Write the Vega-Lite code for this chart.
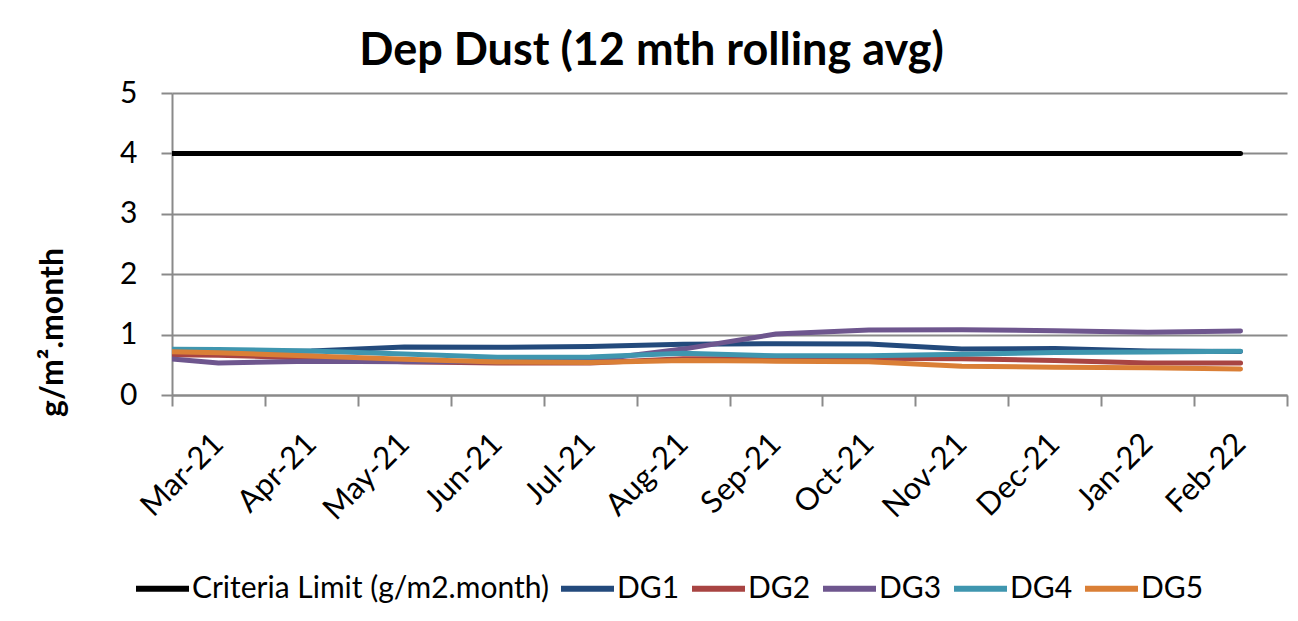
{
  "$schema": "https://vega.github.io/schema/vega-lite/v6.json",
  "width": 1115,
  "height": 302,
  "autosize": {"type": "none"},
  "padding": {"left": 172, "top": 93, "right": 11, "bottom": 226},
  "background": "#ffffff",
  "title": {
    "text": "Dep Dust (12 mth rolling avg)",
    "font": "Lato",
    "fontSize": 45,
    "fontWeight": "bold",
    "color": "#000000",
    "anchor": "middle",
    "frame": "group",
    "dx": -78,
    "baseline": "alphabetic",
    "offset": -32
  },
  "data": {
    "values": [
      {"series": "Criteria Limit (g/m2.month)", "month": "Feb-21", "n": -1, "value": 4},
      {"series": "Criteria Limit (g/m2.month)", "month": "Mar-21", "n": 0, "value": 4},
      {"series": "Criteria Limit (g/m2.month)", "month": "Apr-21", "n": 1, "value": 4},
      {"series": "Criteria Limit (g/m2.month)", "month": "May-21", "n": 2, "value": 4},
      {"series": "Criteria Limit (g/m2.month)", "month": "Jun-21", "n": 3, "value": 4},
      {"series": "Criteria Limit (g/m2.month)", "month": "Jul-21", "n": 4, "value": 4},
      {"series": "Criteria Limit (g/m2.month)", "month": "Aug-21", "n": 5, "value": 4},
      {"series": "Criteria Limit (g/m2.month)", "month": "Sep-21", "n": 6, "value": 4},
      {"series": "Criteria Limit (g/m2.month)", "month": "Oct-21", "n": 7, "value": 4},
      {"series": "Criteria Limit (g/m2.month)", "month": "Nov-21", "n": 8, "value": 4},
      {"series": "Criteria Limit (g/m2.month)", "month": "Dec-21", "n": 9, "value": 4},
      {"series": "Criteria Limit (g/m2.month)", "month": "Jan-22", "n": 10, "value": 4},
      {"series": "Criteria Limit (g/m2.month)", "month": "Feb-22", "n": 11, "value": 4},
      {"series": "DG1", "month": "Feb-21", "n": -1, "value": 0.72},
      {"series": "DG1", "month": "Mar-21", "n": 0, "value": 0.72},
      {"series": "DG1", "month": "Apr-21", "n": 1, "value": 0.73},
      {"series": "DG1", "month": "May-21", "n": 2, "value": 0.795},
      {"series": "DG1", "month": "Jun-21", "n": 3, "value": 0.79},
      {"series": "DG1", "month": "Jul-21", "n": 4, "value": 0.805},
      {"series": "DG1", "month": "Aug-21", "n": 5, "value": 0.84},
      {"series": "DG1", "month": "Sep-21", "n": 6, "value": 0.85},
      {"series": "DG1", "month": "Oct-21", "n": 7, "value": 0.845},
      {"series": "DG1", "month": "Nov-21", "n": 8, "value": 0.76},
      {"series": "DG1", "month": "Dec-21", "n": 9, "value": 0.77},
      {"series": "DG1", "month": "Jan-22", "n": 10, "value": 0.73},
      {"series": "DG1", "month": "Feb-22", "n": 11, "value": 0.72},
      {"series": "DG2", "month": "Feb-21", "n": -1, "value": 0.67},
      {"series": "DG2", "month": "Mar-21", "n": 0, "value": 0.66},
      {"series": "DG2", "month": "Apr-21", "n": 1, "value": 0.61},
      {"series": "DG2", "month": "May-21", "n": 2, "value": 0.55},
      {"series": "DG2", "month": "Jun-21", "n": 3, "value": 0.53},
      {"series": "DG2", "month": "Jul-21", "n": 4, "value": 0.53},
      {"series": "DG2", "month": "Aug-21", "n": 5, "value": 0.6},
      {"series": "DG2", "month": "Sep-21", "n": 6, "value": 0.6},
      {"series": "DG2", "month": "Oct-21", "n": 7, "value": 0.61},
      {"series": "DG2", "month": "Nov-21", "n": 8, "value": 0.6},
      {"series": "DG2", "month": "Dec-21", "n": 9, "value": 0.57},
      {"series": "DG2", "month": "Jan-22", "n": 10, "value": 0.53},
      {"series": "DG2", "month": "Feb-22", "n": 11, "value": 0.53},
      {"series": "DG3", "month": "Feb-21", "n": -1, "value": 0.66},
      {"series": "DG3", "month": "Mar-21", "n": 0, "value": 0.53},
      {"series": "DG3", "month": "Apr-21", "n": 1, "value": 0.56},
      {"series": "DG3", "month": "May-21", "n": 2, "value": 0.55},
      {"series": "DG3", "month": "Jun-21", "n": 3, "value": 0.55},
      {"series": "DG3", "month": "Jul-21", "n": 4, "value": 0.57},
      {"series": "DG3", "month": "Aug-21", "n": 5, "value": 0.76},
      {"series": "DG3", "month": "Sep-21", "n": 6, "value": 1.01},
      {"series": "DG3", "month": "Oct-21", "n": 7, "value": 1.075},
      {"series": "DG3", "month": "Nov-21", "n": 8, "value": 1.08},
      {"series": "DG3", "month": "Dec-21", "n": 9, "value": 1.065},
      {"series": "DG3", "month": "Jan-22", "n": 10, "value": 1.04},
      {"series": "DG3", "month": "Feb-22", "n": 11, "value": 1.06},
      {"series": "DG4", "month": "Feb-21", "n": -1, "value": 0.76},
      {"series": "DG4", "month": "Mar-21", "n": 0, "value": 0.755},
      {"series": "DG4", "month": "Apr-21", "n": 1, "value": 0.73},
      {"series": "DG4", "month": "May-21", "n": 2, "value": 0.68},
      {"series": "DG4", "month": "Jun-21", "n": 3, "value": 0.625},
      {"series": "DG4", "month": "Jul-21", "n": 4, "value": 0.63},
      {"series": "DG4", "month": "Aug-21", "n": 5, "value": 0.69},
      {"series": "DG4", "month": "Sep-21", "n": 6, "value": 0.65},
      {"series": "DG4", "month": "Oct-21", "n": 7, "value": 0.65},
      {"series": "DG4", "month": "Nov-21", "n": 8, "value": 0.675},
      {"series": "DG4", "month": "Dec-21", "n": 9, "value": 0.705},
      {"series": "DG4", "month": "Jan-22", "n": 10, "value": 0.71},
      {"series": "DG4", "month": "Feb-22", "n": 11, "value": 0.725},
      {"series": "DG5", "month": "Feb-21", "n": -1, "value": 0.73},
      {"series": "DG5", "month": "Mar-21", "n": 0, "value": 0.7},
      {"series": "DG5", "month": "Apr-21", "n": 1, "value": 0.645},
      {"series": "DG5", "month": "May-21", "n": 2, "value": 0.59},
      {"series": "DG5", "month": "Jun-21", "n": 3, "value": 0.545},
      {"series": "DG5", "month": "Jul-21", "n": 4, "value": 0.54},
      {"series": "DG5", "month": "Aug-21", "n": 5, "value": 0.57},
      {"series": "DG5", "month": "Sep-21", "n": 6, "value": 0.56},
      {"series": "DG5", "month": "Oct-21", "n": 7, "value": 0.55},
      {"series": "DG5", "month": "Nov-21", "n": 8, "value": 0.475},
      {"series": "DG5", "month": "Dec-21", "n": 9, "value": 0.46},
      {"series": "DG5", "month": "Jan-22", "n": 10, "value": 0.45},
      {"series": "DG5", "month": "Feb-22", "n": 11, "value": 0.43}
    ]
  },
  "mark": {"type": "line", "strokeWidth": 5, "strokeCap": "round", "strokeJoin": "round", "clip": true},
  "encoding": {
    "x": {
      "field": "n",
      "type": "quantitative",
      "scale": {"domain": [-0.5, 11.5], "nice": false, "zero": false},
      "axis": {
        "title": null,
        "grid": false,
        "values": [-0.5, 0, 0.5, 1, 1.5, 2, 2.5, 3, 3.5, 4, 4.5, 5, 5.5, 6, 6.5, 7, 7.5, 8, 8.5, 9, 9.5, 10, 10.5, 11, 11.5],
        "labelExpr": "datum.value % 1 === 0 ? ['Mar-21','Apr-21','May-21','Jun-21','Jul-21','Aug-21','Sep-21','Oct-21','Nov-21','Dec-21','Jan-22','Feb-22'][datum.value] : ''",
        "tickOpacity": {"condition": {"test": "datum.value % 1 !== 0", "value": 1}, "value": 0},
        "tickSize": 11,
        "tickWidth": 2,
        "tickColor": "#8a8a8a",
        "domainColor": "#8a8a8a",
        "domainWidth": 2,
        "labelAngle": -45,
        "labelAlign": "right",
        "labelBaseline": "middle",
        "labelPadding": 33,
        "labelDx": 13,
        "labelFont": "Lato",
        "labelFontSize": 31,
        "labelColor": "#000000",
        "labelOverlap": false,
        "labelFlush": false,
        "labelBound": false
      }
    },
    "y": {
      "field": "value",
      "type": "quantitative",
      "scale": {"domain": [0, 5], "nice": false, "zero": true},
      "axis": {
        "values": [0, 1, 2, 3, 4, 5],
        "grid": true,
        "gridColor": "#8a8a8a",
        "gridWidth": 2,
        "tickSize": 11,
        "tickWidth": 2,
        "tickColor": "#8a8a8a",
        "domainColor": "#8a8a8a",
        "domainWidth": 2,
        "labelFont": "Lato",
        "labelFontSize": 30,
        "labelColor": "#000000",
        "labelPadding": 24,
        "labelFlush": false,
        "title": "g/m².month",
        "titleFont": "Lato",
        "titleFontSize": 32,
        "titleFontWeight": "bold",
        "titleColor": "#000000",
        "titleAngle": -90,
        "titleX": -120,
        "titleY": 239,
        "titleAlign": "center",
        "titleBaseline": "middle"
      }
    },
    "color": {
      "field": "series",
      "type": "nominal",
      "scale": {
        "domain": ["Criteria Limit (g/m2.month)", "DG1", "DG2", "DG3", "DG4", "DG5"],
        "range": ["#000000", "#234A7C", "#A84442", "#6E568E", "#3F96AF", "#DA7F36"]
      },
      "legend": {
        "orient": "none",
        "legendX": -39,
        "legendY": 466,
        "direction": "horizontal",
        "title": null,
        "symbolType": "stroke",
        "symbolSize": 2809,
        "symbolStrokeWidth": 6,
        "labelFont": "Lato",
        "labelFontSize": 30,
        "labelColor": "#000000",
        "labelOffset": 0,
        "labelLimit": 600,
        "columnPadding": 0
      }
    }
  },
  "config": {"view": {"stroke": null}}
}
